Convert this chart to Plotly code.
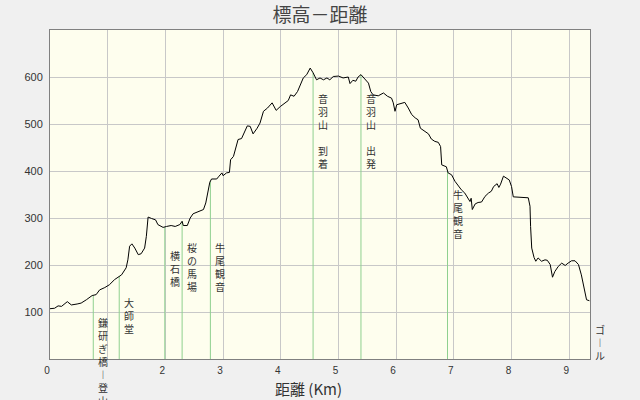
import numpy as np
import plotly.graph_objects as go

# ---- data -------------------------------------------------------------
dist_km = [0.0, 0.08, 0.14, 0.20, 0.30, 0.37, 0.47, 0.54, 0.63, 0.73,
           0.80, 0.86, 0.95, 1.03, 1.12, 1.20, 1.24, 1.32, 1.35, 1.38,
           1.42, 1.47, 1.53, 1.58, 1.64, 1.67, 1.70, 1.76, 1.83, 1.87,
           1.96, 2.02, 2.10, 2.17, 2.25, 2.29, 2.31, 2.38, 2.43, 2.48,
           2.57, 2.66, 2.70, 2.73, 2.77, 2.80, 2.89, 2.93, 2.98, 3.00,
           3.06, 3.11, 3.13, 3.18, 3.22, 3.26, 3.32, 3.36, 3.42, 3.47,
           3.52, 3.59, 3.64, 3.70, 3.77, 3.85, 3.92, 3.99, 4.07, 4.13,
           4.17, 4.23, 4.29, 4.33, 4.39, 4.45, 4.51, 4.56, 4.62, 4.68,
           4.74, 4.80, 4.85, 4.91, 5.00, 5.08, 5.17, 5.20, 5.25, 5.30,
           5.34, 5.39, 5.46, 5.52, 5.56, 5.60, 5.69, 5.78, 5.85, 5.92,
           5.95, 5.98, 6.01, 6.07, 6.15, 6.21, 6.27, 6.33, 6.38, 6.42,
           6.50, 6.56, 6.61, 6.67, 6.73, 6.77, 6.79, 6.82, 6.87, 6.90,
           6.96, 7.02, 7.08, 7.13, 7.19, 7.25, 7.28, 7.30, 7.32, 7.37,
           7.42, 7.48, 7.54, 7.60, 7.65, 7.69, 7.75, 7.78, 7.81, 7.86,
           7.91, 7.96, 8.00, 8.03, 8.29, 8.32, 8.33, 8.35, 8.39, 8.42,
           8.46, 8.52, 8.58, 8.62, 8.67, 8.71, 8.75, 8.81, 8.87, 8.93,
           8.98, 9.04, 9.10, 9.16, 9.21, 9.24, 9.28, 9.30, 9.35]

elev_m = [107, 108, 113, 112, 122, 115, 117, 119, 126, 135,
          137, 147, 152, 158, 169, 176, 179, 194, 211, 240,
          245, 236, 222, 224, 236, 261, 302, 299, 296, 286,
          280, 282, 284, 282, 286, 293, 284, 284, 300, 309,
          314, 318, 332, 353, 376, 383, 383, 389, 396, 390,
          396, 397, 424, 431, 449, 467, 469, 479, 496, 495,
          479, 491, 502, 527, 534, 545, 529, 537, 545, 550,
          562, 559, 569, 580, 598, 605, 619, 609, 594, 598,
          594, 598, 594, 601, 602, 598, 600, 586, 593, 591,
          600, 605, 594, 587, 569, 562, 560, 566, 559, 555,
          545, 527, 541, 543, 546, 534, 520, 513, 509, 491,
          484, 479, 468, 463, 461, 452, 413, 411, 409, 396,
          392, 378, 367, 360, 353, 342, 335, 342, 318, 330,
          333, 334, 346, 353, 357, 367, 373, 365, 372, 389,
          385, 381, 367, 345, 343, 325, 282, 236, 216, 208,
          215, 208, 211, 210, 201, 174, 186, 197, 204, 199,
          204, 209, 209, 201, 179, 162, 137, 126, 124]

# waypoints along the route
point_km = [0.75, 1.20, 1.99, 2.29, 2.78, 4.56, 5.39, 6.89, 9.36]
point_names = ["鎌研ぎ橋ー登山", "大師堂", "横石橋", "桜の馬場", "牛尾観音",
               "音羽山 到着", "音羽山 出発", "牛尾観音", "ゴール"]
point_has_line = [True, True, True, True, True, True, True, True, False]

x_ticks = [0, 1, 2, 3, 4, 5, 6, 7, 8, 9]
x_tick_text = ["0", "", "2", "3", "4", "5", "6", "7", "8", "9"]  # "1" hidden under a label
y_ticks = [100, 200, 300, 400, 500, 600]

# label placement (top of vertical label, in metres on the y axis)
label_top = [96, 139, 239, 256, 256, 573, 573, 368, 81]

# ---- figure -----------------------------------------------------------
CJK = "Noto Sans CJK JP"
NUM = "Liberation Sans"
fig = go.Figure()

for km, has_line in zip(point_km, point_has_line):
    if not has_line:
        continue
    top = float(np.interp(km, dist_km, elev_m))
    fig.add_trace(go.Scatter(x=[km, km], y=[0, top], mode="lines",
                             line=dict(color="#8fd08f", width=1),
                             hoverinfo="skip", showlegend=False))

fig.add_trace(go.Scatter(x=dist_km, y=elev_m, mode="lines",
                         line=dict(color="#000000", width=1),
                         showlegend=False))


def vertical(text):
    chars = []
    for ch in text:
        if ch == "ー":
            ch = "︱"
        if ch == " ":
            ch = "\u3000"
        chars.append(ch)
    return "<br>".join(chars)


for km, name, top in zip(point_km, point_names, label_top):
    fig.add_annotation(x=km, y=top, xref="x", yref="y", text=vertical(name),
                       showarrow=False, xanchor="center", yanchor="top",
                       xshift=10, align="center", borderpad=0,
                       font=dict(family=CJK, size=10, color="#333333"))

# x axis title
fig.add_annotation(x=0.478, y=-0.09, xref="paper", yref="paper",
                   text="距離 (Km)", showarrow=False,
                   xanchor="center", yanchor="middle", borderpad=0,
                   font=dict(family=CJK, size=15, color="#333333"))

fig.update_layout(
    width=640, height=400,
    margin=dict(l=50, r=50, t=30, b=41),
    paper_bgcolor="#f0f0f0", plot_bgcolor="#fefeee",
    title=dict(text="標高－距離", x=0.5, xanchor="center", y=0.9625,
               yanchor="middle",
               font=dict(family=CJK, size=19, color="#444444")),
    font=dict(family=CJK, color="#333333"),
)
fig.update_xaxes(range=[0, 9.36], tickvals=x_ticks, ticktext=x_tick_text,
                 showgrid=True, gridcolor="#c8c8c8", gridwidth=1,
                 zeroline=False, showline=True, linecolor="#808080",
                 linewidth=1, mirror=True, ticklabelshift=-3,
                 ticklabelstandoff=2,
                 tickfont=dict(family=NUM, size=10, color="#333333"))
fig.update_yaxes(range=[0, 700], tickvals=y_ticks, showgrid=True,
                 gridcolor="#c8c8c8", gridwidth=1, zeroline=False,
                 showline=True, linecolor="#808080", linewidth=1, mirror=True,
                 ticklabelstandoff=4,
                 tickfont=dict(family=NUM, size=11, color="#333333"))

fig.write_html(
    "out.html",
    config={"displayModeBar": False},
    post_script="document.body.style.margin='0';"
                "document.body.style.background='#f0f0f0';",
)
